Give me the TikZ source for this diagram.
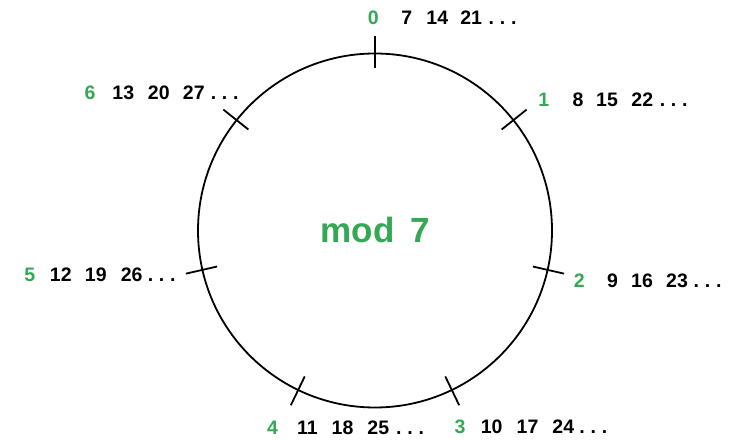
\documentclass[tikz,border=0pt]{standalone}
\usepackage{fontspec}
\usetikzlibrary{calc}
\setmainfont{Liberation Sans}
\definecolor{modgreen}{RGB}{52,168,83}
\newcommand{\dotsrow}{.\hspace{5.8bp}.\hspace{5.8bp}.}
\tikzset{
  lbl/.style={inner sep=0pt, anchor=base, font=\fontsize{19.5bp}{22bp}\selectfont\bfseries},
  res/.style={lbl, text=modgreen},
  num/.style={lbl, text=black},
  tickline/.style={line width=1.8bp, black},
}
\begin{document}
\begin{tikzpicture}[x=1bp, y=-1bp]
\useasboundingbox (0,0) rectangle (733,440);
\fill[white] (0,0) rectangle (733,440);
\coordinate (c) at (375,230.5);
\draw[line width=1.8bp] (c) circle[radius=177bp];
\foreach \k in {0,...,6}{
  \pgfmathsetmacro{\ang}{-(90-360/7*\k)}
  \coordinate (tin\k) at ($(c)+(\ang:162)$);
  \coordinate (tout\k) at ($(c)+(\ang:194)$);
  \draw[tickline] (tin\k) -- (tout\k);
}
\node[font=\fontsize{35bp}{40bp}\selectfont\bfseries, text=modgreen, inner sep=0pt, anchor=base west] (mod) at (320.5,243) {mod\hspace{16bp}7};
% row 0
\node[res] (r0) at (373.3,25) {0};
\node[num] (a0) at (406.7,25) {7};
\node[num] (b0) at (437.3,25) {14};
\node[num] (c0) at (471.2,25) {21};
\node[num] (d0) at (502.5,25) {\dotsrow};
% row 1
\node[res] (r1) at (543.8,106.7) {1};
\node[num] (a1) at (578,106.7) {8};
\node[num] (b1) at (607,106.7) {15};
\node[num] (c1) at (642.3,106.7) {22};
\node[num] (d1) at (673.7,106.7) {\dotsrow};
% row 2
\node[res] (r2) at (579.2,287.7) {2};
\node[num] (a2) at (612.5,287.7) {9};
\node[num] (b2) at (642,287.7) {16};
\node[num] (c2) at (677,287.7) {23};
\node[num] (d2) at (707.5,287.7) {\dotsrow};
% row 3
\node[res] (r3) at (460,433.5) {3};
\node[num] (a3) at (491.7,433.5) {10};
\node[num] (b3) at (527.5,433.5) {17};
\node[num] (c3) at (563.3,433.5) {24};
\node[num] (d3) at (593.3,433.5) {\dotsrow};
% row 4
\node[res] (r4) at (272.5,434.5) {4};
\node[num] (a4) at (307.5,434.5) {11};
\node[num] (b4) at (342.5,434.5) {18};
\node[num] (c4) at (378.3,434.5) {25};
\node[num] (d4) at (410,434.5) {\dotsrow};
% row 5
\node[res] (r5) at (29.7,281.7) {5};
\node[num] (a5) at (60.8,281.7) {12};
\node[num] (b5) at (95.8,281.7) {19};
\node[num] (c5) at (131.7,281.7) {26};
\node[num] (d5) at (161.7,281.7) {\dotsrow};
% row 6
\node[res] (r6) at (90,100) {6};
\node[num] (a6) at (123.3,100) {13};
\node[num] (b6) at (158.8,100) {20};
\node[num] (c6) at (193.8,100) {27};
\node[num] (d6) at (224.7,100) {\dotsrow};
\end{tikzpicture}
\end{document}
